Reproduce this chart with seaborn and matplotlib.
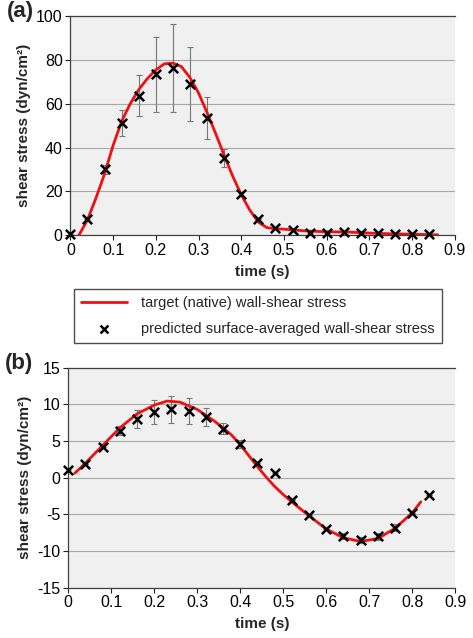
import numpy as np
import pandas as pd
import matplotlib
matplotlib.use("Agg")
import matplotlib.pyplot as plt
import seaborn as sns

# ---- data ----
t_pts = [0.00, 0.04, 0.08, 0.12, 0.16, 0.20, 0.24, 0.28, 0.32, 0.36, 0.40,
         0.44, 0.48, 0.52, 0.56, 0.60, 0.64, 0.68, 0.72, 0.76, 0.80, 0.84]

# panel (a)
pred_a = [0.5, 7.6, 30.1, 51.3, 63.8, 73.5, 76.3, 69.1, 53.6, 35.3, 18.9,
          7.6, 3.5, 2.4, 1.2, 1.2, 1.4, 1.1, 0.9, 0.5, 0.8, 0.5]
err_a = [0, 0, 2, 6, 9.5, 17, 20, 17, 9.6, 4, 1,
         0, 0, 0, 0, 0, 0, 0, 0, 0, 0, 0]
t_line_a = [0.02, 0.04, 0.06, 0.08, 0.10, 0.12, 0.14, 0.16, 0.18, 0.20, 0.22,
            0.24, 0.26, 0.28, 0.30, 0.32, 0.34, 0.36, 0.38, 0.40, 0.42, 0.44,
            0.46, 0.48, 0.50, 0.55, 0.60, 0.65, 0.70, 0.75, 0.80, 0.86]
target_a = [0, 7, 17, 28, 41, 52, 60, 66.5, 71.5, 75.5, 78.3,
            78.6, 77, 72, 65, 56, 46.5, 36.5, 27, 18.5, 11.5, 6,
            3.5, 3, 2.8, 2, 1.6, 1.5, 1.0, 0.7, 0.5, 0.2]

# panel (b)
pred_b = [1.0, 1.8, 4.2, 6.4, 8.0, 9.0, 9.3, 9.1, 8.3, 6.7, 4.6,
          2.0, 0.6, -3.0, -5.1, -7.0, -8.0, -8.5, -8.0, -6.8, -4.8, -2.4]
err_b = [0, 0, 0, 0.6, 1.25, 1.65, 1.9, 1.75, 1.2, 0.75, 0.55,
         0, 0, 0, 0, 0, 0.4, 0.4, 0.5, 0.5, 0, 0]
t_line_b = [0.015, 0.04, 0.08, 0.12, 0.16, 0.20, 0.23, 0.26, 0.30, 0.32, 0.34,
            0.36, 0.38, 0.40, 0.42, 0.44, 0.46, 0.48, 0.50, 0.52, 0.56, 0.60,
            0.64, 0.68, 0.72, 0.76, 0.80, 0.82]
target_b = [0.6, 2.0, 4.4, 6.8, 8.7, 9.9, 10.45, 10.3, 9.3, 8.5, 7.7,
            6.8, 5.8, 4.5, 3.0, 1.5, 0.1, -1.2, -2.3, -3.3, -5.2, -7.0,
            -8.2, -8.7, -8.3, -6.9, -4.8, -3.3]

x_ticks = [0, 0.1, 0.2, 0.3, 0.4, 0.5, 0.6, 0.7, 0.8, 0.9]
x_ticklabels = ["0", "0.1", "0.2", "0.3", "0.4", "0.5", "0.6", "0.7", "0.8", "0.9"]

sns.set_style("white")
plt.rcParams["font.family"] = ["Liberation Sans", "DejaVu Sans"]
plt.rcParams["axes.unicode_minus"] = False

fig = plt.figure(figsize=(4.73, 6.38), dpi=100)
ax_a = fig.add_axes([0.1487, 0.6312, 0.813, 0.3433])
ax_b = fig.add_axes([0.1444, 0.0789, 0.818, 0.3448])


def draw_panel(ax, t_line, target, pred, err, yticks, ylim, tag):
    ax.set_facecolor("#f0f0f0")
    for y in yticks:
        ax.axhline(y, color="#a8a8a8", lw=0.8, zorder=0)
    ax.errorbar(t_pts, pred, yerr=err, fmt="none", ecolor="#777777",
                elinewidth=0.8, capsize=2.2, capthick=0.8, zorder=2)
    sns.lineplot(x=t_line, y=target, ax=ax, color="#ee1111", lw=2.0,
                 label="target (native) wall-shear stress", zorder=3)
    sns.scatterplot(x=t_pts, y=pred, ax=ax, marker="x", color="black",
                    s=45, linewidth=1.8, zorder=4, clip_on=False,
                    label="predicted surface-averaged wall-shear stress")
    ax.set_xlim(0, 0.9)
    ax.set_ylim(*ylim)
    ax.set_xticks(x_ticks)
    ax.set_xticklabels(x_ticklabels)
    ax.set_yticks(yticks)
    ax.tick_params(axis="both", labelsize=11.5, colors="#222222",
                   length=3.5, width=0.8, direction="out", pad=2)
    ax.tick_params(axis="both", labelcolor="black")
    for side in ["left", "bottom", "top"]:
        ax.spines[side].set_color("#404040")
        ax.spines[side].set_linewidth(0.9)
    ax.spines["right"].set_visible(False)
    ax.tick_params(left=True, bottom=True)
    ax.set_xlabel("time (s)", fontsize=11, fontweight="bold", labelpad=5)
    ax.set_ylabel("shear stress (dyn/cm²)", fontsize=11, fontweight="bold",
                  labelpad=4)
    ax.text(-0.165, 1.02, tag, transform=ax.transAxes, fontsize=16,
            fontweight="bold", ha="left", va="center")
    ax.get_legend().remove()


draw_panel(ax_a, t_line_a, target_a, pred_a, err_a,
           [0, 20, 40, 60, 80, 100], (0, 100), "(a)")
draw_panel(ax_b, t_line_b, target_b, pred_b, err_b,
           [-15, -10, -5, 0, 5, 10, 15], (-15, 15), "(b)")

handles, labels = ax_a.get_legend_handles_labels()
leg = fig.legend(handles, labels, loc="center",
                 bbox_to_anchor=(0.5444, 0.5047), fontsize=10.5,
                 frameon=True, fancybox=False, edgecolor="#222222",
                 handlelength=3.2, handletextpad=0.9, labelspacing=0.8,
                 borderpad=0.5, markerscale=0.85)
leg.get_frame().set_linewidth(1.0)

fig.savefig("out.png", dpi=100)
